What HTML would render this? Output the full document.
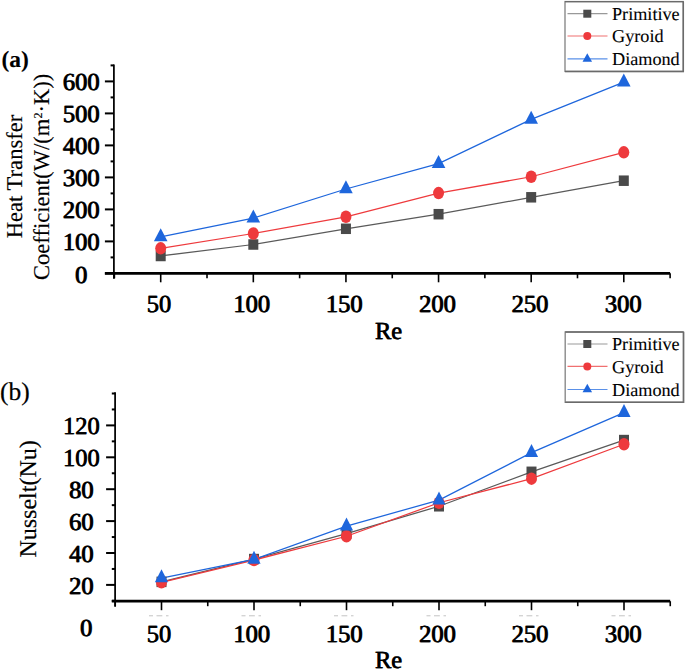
<!DOCTYPE html>
<html><head><meta charset="utf-8"><style>
html,body{margin:0;padding:0;background:#fff;width:685px;height:670px;overflow:hidden}
svg{display:block}
text{font-family:"Liberation Serif",serif;fill:#000;stroke:#000;stroke-width:0.35px;text-rendering:geometricPrecision}
.tk{font-size:24.5px;stroke-width:0.25px}
.lg{font-size:18.2px;stroke-width:0.1px}
.pa{font-size:23.5px;font-weight:bold;stroke-width:0.1px}
.pb{font-size:25.5px;stroke-width:0.2px}
.at{font-size:22.6px;stroke-width:0.15px}
.at2{font-size:24px;stroke-width:0.2px}
.ti{font-size:24.5px;stroke-width:0.25px}
</style></head><body>
<svg width="685" height="670" viewBox="0 0 685 670">
<rect width="685" height="670" fill="#fff"/>
<line x1="113.9" y1="64.4" x2="113.9" y2="278.8" stroke="#000" stroke-width="1.75"/>
<line x1="104.9" y1="273.3" x2="670.1" y2="273.3" stroke="#000" stroke-width="2.8"/>
<line x1="104.9" y1="273.4" x2="113.9" y2="273.4" stroke="#000" stroke-width="2"/>
<line x1="110.6" y1="257.4" x2="113.9" y2="257.4" stroke="#000" stroke-width="2"/>
<line x1="104.9" y1="241.4" x2="113.9" y2="241.4" stroke="#000" stroke-width="2"/>
<line x1="110.6" y1="225.4" x2="113.9" y2="225.4" stroke="#000" stroke-width="2"/>
<line x1="104.9" y1="209.4" x2="113.9" y2="209.4" stroke="#000" stroke-width="2"/>
<line x1="110.6" y1="193.4" x2="113.9" y2="193.4" stroke="#000" stroke-width="2"/>
<line x1="104.9" y1="177.4" x2="113.9" y2="177.4" stroke="#000" stroke-width="2"/>
<line x1="110.6" y1="161.4" x2="113.9" y2="161.4" stroke="#000" stroke-width="2"/>
<line x1="104.9" y1="145.4" x2="113.9" y2="145.4" stroke="#000" stroke-width="2"/>
<line x1="110.6" y1="129.4" x2="113.9" y2="129.4" stroke="#000" stroke-width="2"/>
<line x1="104.9" y1="113.4" x2="113.9" y2="113.4" stroke="#000" stroke-width="2"/>
<line x1="110.6" y1="97.4" x2="113.9" y2="97.4" stroke="#000" stroke-width="2"/>
<line x1="104.9" y1="81.4" x2="113.9" y2="81.4" stroke="#000" stroke-width="2"/>
<line x1="110.6" y1="65.4" x2="113.9" y2="65.4" stroke="#000" stroke-width="2"/>
<line x1="160.7" y1="273.3" x2="160.7" y2="282.3" stroke="#000" stroke-width="1.6"/>
<line x1="207.01" y1="273.3" x2="207.01" y2="278.3" stroke="#000" stroke-width="1.6"/>
<line x1="253.32" y1="273.3" x2="253.32" y2="282.3" stroke="#000" stroke-width="1.6"/>
<line x1="299.63" y1="273.3" x2="299.63" y2="278.3" stroke="#000" stroke-width="1.6"/>
<line x1="345.94" y1="273.3" x2="345.94" y2="282.3" stroke="#000" stroke-width="1.6"/>
<line x1="392.25" y1="273.3" x2="392.25" y2="278.3" stroke="#000" stroke-width="1.6"/>
<line x1="438.56" y1="273.3" x2="438.56" y2="282.3" stroke="#000" stroke-width="1.6"/>
<line x1="484.87" y1="273.3" x2="484.87" y2="278.3" stroke="#000" stroke-width="1.6"/>
<line x1="531.18" y1="273.3" x2="531.18" y2="282.3" stroke="#000" stroke-width="1.6"/>
<line x1="577.49" y1="273.3" x2="577.49" y2="278.3" stroke="#000" stroke-width="1.6"/>
<line x1="623.8" y1="273.3" x2="623.8" y2="282.3" stroke="#000" stroke-width="1.6"/>
<line x1="670.11" y1="273.3" x2="670.11" y2="278.3" stroke="#000" stroke-width="1.6"/>
<line x1="114.39" y1="273.3" x2="114.39" y2="278.3" stroke="#000" stroke-width="1.6"/>
<text x="80.9" y="283.2" text-anchor="middle" class="tk">0</text>
<text x="81.5" y="283.2" text-anchor="middle" class="tk">0</text>
<text x="80.9" y="250.4" text-anchor="middle" class="tk">100</text>
<text x="81.5" y="250.4" text-anchor="middle" class="tk">100</text>
<text x="80.9" y="218.4" text-anchor="middle" class="tk">200</text>
<text x="81.5" y="218.4" text-anchor="middle" class="tk">200</text>
<text x="80.9" y="186.4" text-anchor="middle" class="tk">300</text>
<text x="81.5" y="186.4" text-anchor="middle" class="tk">300</text>
<text x="80.9" y="154.4" text-anchor="middle" class="tk">400</text>
<text x="81.5" y="154.4" text-anchor="middle" class="tk">400</text>
<text x="80.9" y="122.4" text-anchor="middle" class="tk">500</text>
<text x="81.5" y="122.4" text-anchor="middle" class="tk">500</text>
<text x="80.9" y="90.4" text-anchor="middle" class="tk">600</text>
<text x="81.5" y="90.4" text-anchor="middle" class="tk">600</text>
<text x="158.7" y="312.3" text-anchor="middle" class="tk">50</text>
<text x="159.3" y="312.3" text-anchor="middle" class="tk">50</text>
<text x="251.4" y="312.3" text-anchor="middle" class="tk">100</text>
<text x="252" y="312.3" text-anchor="middle" class="tk">100</text>
<text x="343.9" y="312.3" text-anchor="middle" class="tk">150</text>
<text x="344.5" y="312.3" text-anchor="middle" class="tk">150</text>
<text x="437.2" y="312.3" text-anchor="middle" class="tk">200</text>
<text x="437.8" y="312.3" text-anchor="middle" class="tk">200</text>
<text x="529.65" y="312.3" text-anchor="middle" class="tk">250</text>
<text x="530.25" y="312.3" text-anchor="middle" class="tk">250</text>
<text x="622.9" y="312.3" text-anchor="middle" class="tk">300</text>
<text x="623.5" y="312.3" text-anchor="middle" class="tk">300</text>
<polyline points="160.7,255.99 253.32,244.5 345.94,228.79 438.56,214.2 531.18,197.3 623.8,180.7" fill="none" stroke="#5a5a5a" stroke-width="1.25"/>
<polyline points="160.7,248.31 253.32,233.5 345.94,216.79 438.56,193.08 531.18,176.76 623.8,152.31" fill="none" stroke="#ee3a3d" stroke-width="1.25"/>
<polyline points="160.7,236.98 253.32,218.07 345.94,188.98 438.56,163.58 531.18,119.38 623.8,82.07" fill="none" stroke="#1e66dc" stroke-width="1.25"/>
<rect x="155.7" y="250.74" width="10" height="10.5" fill="#4a4a4a"/>
<rect x="248.32" y="239.25" width="10" height="10.5" fill="#4a4a4a"/>
<rect x="340.94" y="223.54" width="10" height="10.5" fill="#4a4a4a"/>
<rect x="433.56" y="208.95" width="10" height="10.5" fill="#4a4a4a"/>
<rect x="526.18" y="192.05" width="10" height="10.5" fill="#4a4a4a"/>
<rect x="618.8" y="175.45" width="10" height="10.5" fill="#4a4a4a"/>
<ellipse cx="160.7" cy="248.31" rx="5.5" ry="6.25" fill="#ee3a3d"/>
<ellipse cx="253.32" cy="233.5" rx="5.5" ry="6.25" fill="#ee3a3d"/>
<ellipse cx="345.94" cy="216.79" rx="5.5" ry="6.25" fill="#ee3a3d"/>
<ellipse cx="438.56" cy="193.08" rx="5.5" ry="6.25" fill="#ee3a3d"/>
<ellipse cx="531.18" cy="176.76" rx="5.5" ry="6.25" fill="#ee3a3d"/>
<ellipse cx="623.8" cy="152.31" rx="5.5" ry="6.25" fill="#ee3a3d"/>
<polygon points="160.7,228.32 167.5,241.32 153.9,241.32" fill="#1e66dc"/>
<polygon points="253.32,209.41 260.12,222.41 246.52,222.41" fill="#1e66dc"/>
<polygon points="345.94,180.32 352.74,193.32 339.14,193.32" fill="#1e66dc"/>
<polygon points="438.56,154.91 445.36,167.91 431.76,167.91" fill="#1e66dc"/>
<polygon points="531.18,110.72 537.98,123.72 524.38,123.72" fill="#1e66dc"/>
<polygon points="623.8,73.41 630.6,86.41 617,86.41" fill="#1e66dc"/>
<line x1="115.1" y1="392.3" x2="115.1" y2="606.7" stroke="#000" stroke-width="1.75"/>
<line x1="111.8" y1="601.2" x2="670.2" y2="601.2" stroke="#000" stroke-width="2.8"/>
<line x1="111.8" y1="600.85" x2="115.1" y2="600.85" stroke="#000" stroke-width="2"/>
<line x1="106.1" y1="584.9" x2="115.1" y2="584.9" stroke="#000" stroke-width="2"/>
<line x1="111.8" y1="568.95" x2="115.1" y2="568.95" stroke="#000" stroke-width="2"/>
<line x1="106.1" y1="553" x2="115.1" y2="553" stroke="#000" stroke-width="2"/>
<line x1="111.8" y1="537.05" x2="115.1" y2="537.05" stroke="#000" stroke-width="2"/>
<line x1="106.1" y1="521.1" x2="115.1" y2="521.1" stroke="#000" stroke-width="2"/>
<line x1="111.8" y1="505.15" x2="115.1" y2="505.15" stroke="#000" stroke-width="2"/>
<line x1="106.1" y1="489.2" x2="115.1" y2="489.2" stroke="#000" stroke-width="2"/>
<line x1="111.8" y1="473.25" x2="115.1" y2="473.25" stroke="#000" stroke-width="2"/>
<line x1="106.1" y1="457.3" x2="115.1" y2="457.3" stroke="#000" stroke-width="2"/>
<line x1="111.8" y1="441.35" x2="115.1" y2="441.35" stroke="#000" stroke-width="2"/>
<line x1="106.1" y1="425.4" x2="115.1" y2="425.4" stroke="#000" stroke-width="2"/>
<line x1="111.8" y1="409.45" x2="115.1" y2="409.45" stroke="#000" stroke-width="2"/>
<line x1="111.8" y1="393.5" x2="115.1" y2="393.5" stroke="#000" stroke-width="2"/>
<line x1="115.25" y1="601.2" x2="115.25" y2="606.2" stroke="#000" stroke-width="1.6"/>
<line x1="161.5" y1="601.2" x2="161.5" y2="610.2" stroke="#000" stroke-width="1.6"/>
<line x1="207.75" y1="601.2" x2="207.75" y2="606.2" stroke="#000" stroke-width="1.6"/>
<line x1="254" y1="601.2" x2="254" y2="610.2" stroke="#000" stroke-width="1.6"/>
<line x1="300.25" y1="601.2" x2="300.25" y2="606.2" stroke="#000" stroke-width="1.6"/>
<line x1="346.5" y1="601.2" x2="346.5" y2="610.2" stroke="#000" stroke-width="1.6"/>
<line x1="392.75" y1="601.2" x2="392.75" y2="606.2" stroke="#000" stroke-width="1.6"/>
<line x1="439" y1="601.2" x2="439" y2="610.2" stroke="#000" stroke-width="1.6"/>
<line x1="485.25" y1="601.2" x2="485.25" y2="606.2" stroke="#000" stroke-width="1.6"/>
<line x1="531.5" y1="601.2" x2="531.5" y2="610.2" stroke="#000" stroke-width="1.6"/>
<line x1="577.75" y1="601.2" x2="577.75" y2="606.2" stroke="#000" stroke-width="1.6"/>
<line x1="624" y1="601.2" x2="624" y2="610.2" stroke="#000" stroke-width="1.6"/>
<line x1="670.25" y1="601.2" x2="670.25" y2="606.2" stroke="#000" stroke-width="1.6"/>
<text x="81.1" y="593.7" text-anchor="middle" class="tk">20</text>
<text x="81.7" y="593.7" text-anchor="middle" class="tk">20</text>
<text x="81.1" y="561.8" text-anchor="middle" class="tk">40</text>
<text x="81.7" y="561.8" text-anchor="middle" class="tk">40</text>
<text x="81.1" y="529.9" text-anchor="middle" class="tk">60</text>
<text x="81.7" y="529.9" text-anchor="middle" class="tk">60</text>
<text x="81.1" y="498" text-anchor="middle" class="tk">80</text>
<text x="81.7" y="498" text-anchor="middle" class="tk">80</text>
<text x="81.1" y="466.1" text-anchor="middle" class="tk">100</text>
<text x="81.7" y="466.1" text-anchor="middle" class="tk">100</text>
<text x="81.1" y="434.2" text-anchor="middle" class="tk">120</text>
<text x="81.7" y="434.2" text-anchor="middle" class="tk">120</text>
<text x="158.7" y="641.5" text-anchor="middle" class="tk">50</text>
<text x="159.3" y="641.5" text-anchor="middle" class="tk">50</text>
<text x="251.4" y="641.5" text-anchor="middle" class="tk">100</text>
<text x="252" y="641.5" text-anchor="middle" class="tk">100</text>
<text x="343.9" y="641.5" text-anchor="middle" class="tk">150</text>
<text x="344.5" y="641.5" text-anchor="middle" class="tk">150</text>
<text x="437.2" y="641.5" text-anchor="middle" class="tk">200</text>
<text x="437.8" y="641.5" text-anchor="middle" class="tk">200</text>
<text x="529.65" y="641.5" text-anchor="middle" class="tk">250</text>
<text x="530.25" y="641.5" text-anchor="middle" class="tk">250</text>
<text x="622.9" y="641.5" text-anchor="middle" class="tk">300</text>
<text x="623.5" y="641.5" text-anchor="middle" class="tk">300</text>
<polyline points="161.5,581.87 254,559.06 346.5,533.54 439,506.27 531.5,471.81 624,440.07" fill="none" stroke="#5a5a5a" stroke-width="1.25"/>
<polyline points="161.5,582.35 254,560.02 346.5,536.25 439,502.76 531.5,478.67 624,444.22" fill="none" stroke="#ee3a3d" stroke-width="1.25"/>
<polyline points="161.5,578.04 254,559.38 346.5,526.2 439,500.05 531.5,452.67 624,412.64" fill="none" stroke="#1e66dc" stroke-width="1.25"/>
<rect x="156.5" y="576.62" width="10" height="10.5" fill="#4a4a4a"/>
<rect x="249" y="553.81" width="10" height="10.5" fill="#4a4a4a"/>
<rect x="341.5" y="528.29" width="10" height="10.5" fill="#4a4a4a"/>
<rect x="434" y="501.02" width="10" height="10.5" fill="#4a4a4a"/>
<rect x="526.5" y="466.56" width="10" height="10.5" fill="#4a4a4a"/>
<rect x="619" y="434.82" width="10" height="10.5" fill="#4a4a4a"/>
<ellipse cx="161.5" cy="582.35" rx="5.5" ry="6.25" fill="#ee3a3d"/>
<ellipse cx="254" cy="560.02" rx="5.5" ry="6.25" fill="#ee3a3d"/>
<ellipse cx="346.5" cy="536.25" rx="5.5" ry="6.25" fill="#ee3a3d"/>
<ellipse cx="439" cy="502.76" rx="5.5" ry="6.25" fill="#ee3a3d"/>
<ellipse cx="531.5" cy="478.67" rx="5.5" ry="6.25" fill="#ee3a3d"/>
<ellipse cx="624" cy="444.22" rx="5.5" ry="6.25" fill="#ee3a3d"/>
<polygon points="161.5,569.37 168.1,582.37 154.9,582.37" fill="#1e66dc"/>
<polygon points="254,550.71 260.6,563.71 247.4,563.71" fill="#1e66dc"/>
<polygon points="346.5,517.54 353.1,530.54 339.9,530.54" fill="#1e66dc"/>
<polygon points="439,491.38 445.6,504.38 432.4,504.38" fill="#1e66dc"/>
<polygon points="531.5,444.01 538.1,457.01 524.9,457.01" fill="#1e66dc"/>
<polygon points="624,403.97 630.6,416.97 617.4,416.97" fill="#1e66dc"/>
<rect x="565" y="1.6" width="118.3" height="69.8" fill="#fff" stroke="#8a8a8a" stroke-width="1.4"/>
<path d="M565,1.6 H683.3" stroke="#6a6a6a" stroke-width="1.3"/>
<path d="M683.3,1.6 V71.4 H565" stroke="#6a6a6a" stroke-width="1.5" fill="none"/>
<line x1="567.5" y1="13.7" x2="607.5" y2="13.7" stroke="#999" stroke-width="1.2"/>
<rect x="583.3" y="9.7" width="8" height="8" fill="#4a4a4a"/>
<text x="612" y="20" class="lg">Primitive</text>
<line x1="567.5" y1="36" x2="607.5" y2="36" stroke="#f07070" stroke-width="1.2"/>
<ellipse cx="587.3" cy="36" rx="4" ry="4" fill="#ee3a3d"/>
<text x="612" y="42.3" class="lg">Gyroid</text>
<line x1="567.5" y1="58.8" x2="607.5" y2="58.8" stroke="#5a90e8" stroke-width="1.2"/>
<polygon points="587.3,53.13 592.05,61.63 582.55,61.63" fill="#1e66dc"/>
<text x="612" y="65.1" class="lg">Diamond</text>
<rect x="565.2" y="332" width="118.3" height="70.3" fill="#fff" stroke="#8a8a8a" stroke-width="1.4"/>
<path d="M565.2,332 H683.5" stroke="#6a6a6a" stroke-width="1.3"/>
<path d="M683.5,332 V402.3 H565.2" stroke="#6a6a6a" stroke-width="1.5" fill="none"/>
<line x1="567.5" y1="344" x2="607.5" y2="344" stroke="#999" stroke-width="1.2"/>
<rect x="583.3" y="340" width="8" height="8" fill="#4a4a4a"/>
<text x="612" y="350.3" class="lg">Primitive</text>
<line x1="567.5" y1="366.4" x2="607.5" y2="366.4" stroke="#f07070" stroke-width="1.2"/>
<ellipse cx="587.3" cy="366.4" rx="4" ry="4" fill="#ee3a3d"/>
<text x="612" y="372.7" class="lg">Gyroid</text>
<line x1="567.5" y1="389.5" x2="607.5" y2="389.5" stroke="#5a90e8" stroke-width="1.2"/>
<polygon points="587.3,383.83 592.05,392.33 582.55,392.33" fill="#1e66dc"/>
<text x="612" y="395.8" class="lg">Diamond</text>
<text x="1.5" y="66.5" class="pa">(a)</text>
<text x="0" y="400.2" class="pb">(b)</text>
<text transform="translate(22.2,176.5) rotate(-90)" text-anchor="middle" class="at">Heat Transfer</text>
<text transform="translate(49.3,176.9) rotate(-90)" text-anchor="middle" class="at">Coefficient(W/(m<tspan dy="-7" font-size="12">2</tspan><tspan dy="7">·K))</tspan></text>
<text transform="translate(35.6,498.9) rotate(-90)" text-anchor="middle" class="at2">Nusselt(Nu)</text>
<text x="388.3" y="339.1" text-anchor="middle" class="ti">Re</text>
<text x="388.9" y="339.1" text-anchor="middle" class="ti">Re</text>
<text x="388.3" y="668" text-anchor="middle" class="ti">Re</text>
<text x="388.9" y="668" text-anchor="middle" class="ti">Re</text>
<text x="85.9" y="636.4" text-anchor="middle" class="tk">0</text>
<text x="86.5" y="636.4" text-anchor="middle" class="tk">0</text>
<rect x="149" y="615" width="4" height="1.4" fill="#d4d4d4"/>
<rect x="156.5" y="615" width="5.8" height="1.4" fill="#d4d4d4"/>
<rect x="166" y="615" width="2.5" height="1.4" fill="#d4d4d4"/>
<rect x="241.5" y="615" width="4" height="1.4" fill="#d4d4d4"/>
<rect x="249" y="615" width="5.8" height="1.4" fill="#d4d4d4"/>
<rect x="258.5" y="615" width="2.5" height="1.4" fill="#d4d4d4"/>
<rect x="334" y="615" width="4" height="1.4" fill="#d4d4d4"/>
<rect x="341.5" y="615" width="5.8" height="1.4" fill="#d4d4d4"/>
<rect x="351" y="615" width="2.5" height="1.4" fill="#d4d4d4"/>
<rect x="426.5" y="615" width="4" height="1.4" fill="#d4d4d4"/>
<rect x="434" y="615" width="5.8" height="1.4" fill="#d4d4d4"/>
<rect x="443.5" y="615" width="2.5" height="1.4" fill="#d4d4d4"/>
<rect x="519" y="615" width="4" height="1.4" fill="#d4d4d4"/>
<rect x="526.5" y="615" width="5.8" height="1.4" fill="#d4d4d4"/>
<rect x="536" y="615" width="2.5" height="1.4" fill="#d4d4d4"/>
<rect x="611.5" y="615" width="4" height="1.4" fill="#d4d4d4"/>
<rect x="619" y="615" width="5.8" height="1.4" fill="#d4d4d4"/>
<rect x="628.5" y="615" width="2.5" height="1.4" fill="#d4d4d4"/>
</svg>
</body></html>
